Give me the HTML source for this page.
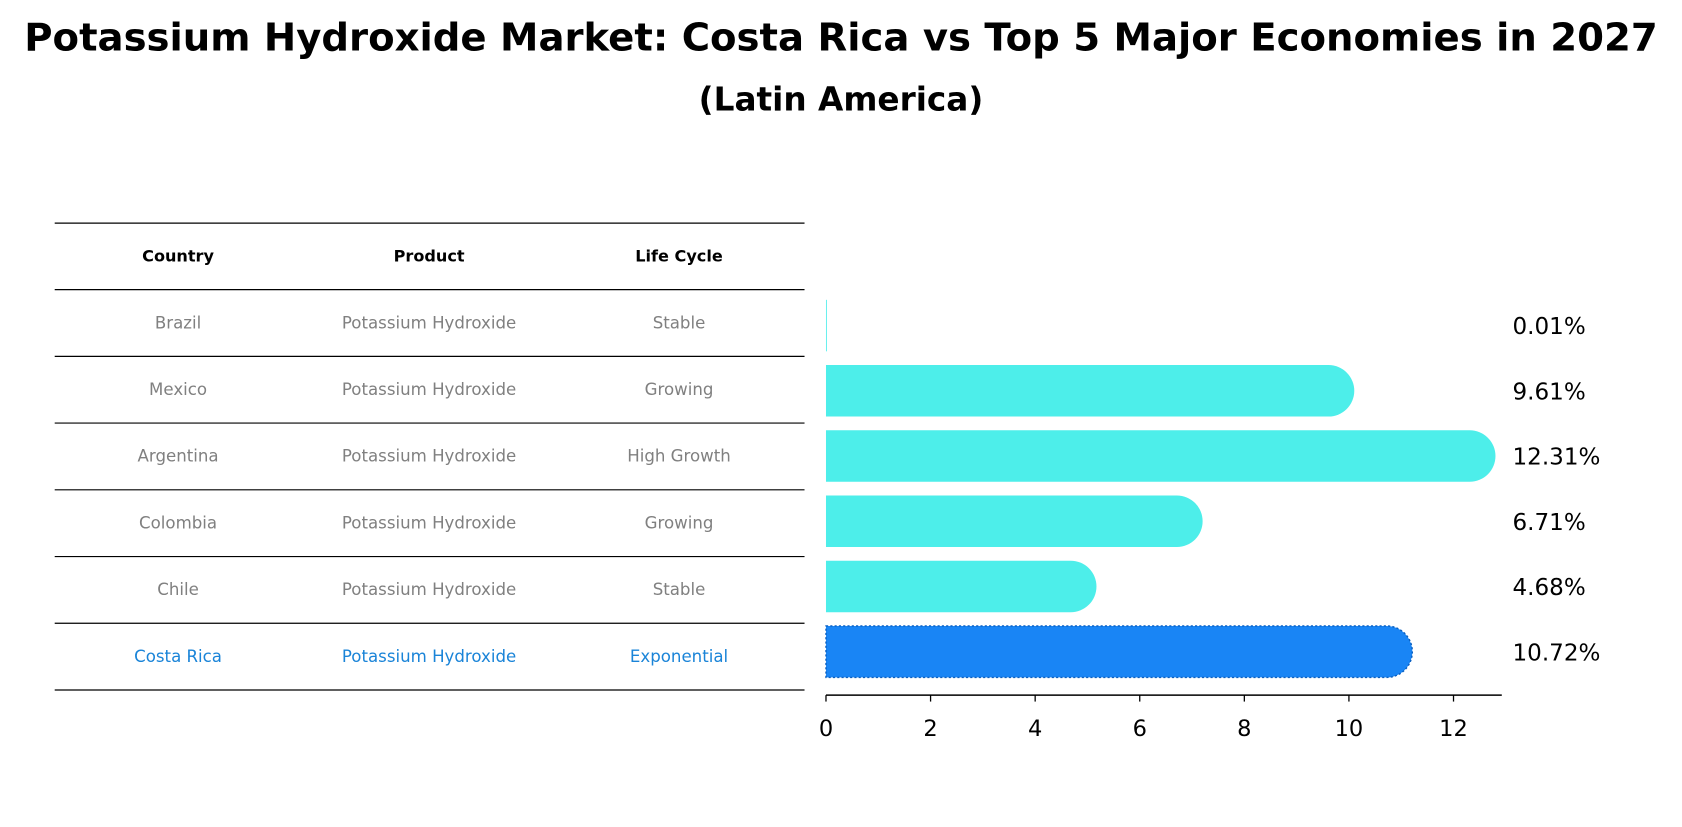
<!DOCTYPE html>
<html><head><meta charset="utf-8"><style>
body{margin:0;background:#fff;font-family:"DejaVu Sans","Liberation Sans",sans-serif}
svg text{font-family:"DejaVu Sans","Liberation Sans",sans-serif}
</style></head><body>
<svg id="chart" width="1682" height="823" viewBox="0 0 1568 767.2" preserveAspectRatio="none" xmlns="http://www.w3.org/2000/svg">
<text x="784" y="47" text-anchor="middle" font-size="36" font-weight="bold">Potassium Hydroxide Market: Costa Rica vs Top 5 Major Economies in 2027</text>
<text x="784" y="103" text-anchor="middle" font-size="30.5" font-weight="bold">(Latin America)</text>
<g id="table"></g>
<g id="bars"></g>
<g id="axis"></g>
</svg>
<script>
const countries=["Brazil","Mexico","Argentina","Colombia","Chile","Costa Rica"];
const products=["Potassium Hydroxide","Potassium Hydroxide","Potassium Hydroxide","Potassium Hydroxide","Potassium Hydroxide","Potassium Hydroxide"];
const lifeCycles=["Stable","Growing","High Growth","Growing","Stable","Exponential"];
const values=[0.01,9.61,12.31,6.71,4.68,10.72];
const ticks=[0,2,4,6,8,10,12];
const NS="http://www.w3.org/2000/svg";
function mk(tag,attrs,parent,txt){const e=document.createElementNS(NS,tag);for(const k in attrs)e.setAttribute(k,attrs[k]);if(txt!==undefined)e.textContent=txt;parent.appendChild(e);return e;}
const x0=770,unit=48.75;
const xs=v=>x0+v*unit;
const rowY=i=>303.5+i*60.8;
const barH=48;
const table=document.getElementById('table'),bars=document.getElementById('bars'),axis=document.getElementById('axis');
const lineYs=[208,270];
for(let i=0;i<countries.length;i++)lineYs.push(270+(i+1)*62.2);
lineYs.forEach(y=>{const l=mk('line',{x1:51,x2:750,y1:y,y2:y,stroke:'#000','stroke-width':1.1},table);

});
const colX=[166,400,633];
["Country","Product","Life Cycle"].forEach((h,j)=>{const t=mk('text',{x:colX[j],y:244,'text-anchor':'middle','font-size':15,'font-weight':'bold'},table,h);

});
countries.forEach((c,i)=>{
 const y=300.5+i*62.2+5.5;const hi=i===countries.length-1;const col=hi?'#1a84d8':'#808080';
 [c,products[i],lifeCycles[i]].forEach((v,j)=>{const t=mk('text',{x:colX[j],y:y,'text-anchor':'middle','font-size':15.5,fill:col},table,v);
 
 });
 const v=values[i];const cy=rowY(i);const xe=xs(v);const top=cy-barH/2;
 const fill=hi?'#1985f5':'#4deeea';
 const w=Math.max(xe-x0,0.8);
 let d;
 if(v<0.1){d=`M${x0},${top}h${w}v${barH}h${-w}z`;}
 else d=`M${x0},${top}H${xe}A${barH/2},${barH/2} 0 0 1 ${xe},${top+barH}H${x0}Z`;
 const p=mk('path',{d:d,fill:fill,stroke:hi?'#0a5fc0':'none','stroke-width':hi?1.3:0,'stroke-dasharray':hi?'2,2':'none'},bars);
 
 
 const t=mk('text',{x:1410,y:cy+8,'font-size':21.5},bars,v.toFixed(2)+'%');
 
 
});
const al=mk('line',{x1:x0,x2:1400,y1:648,y2:648,stroke:'#000','stroke-width':1.3},axis);


ticks.forEach(tv=>{const x=xs(tv);const l=mk('line',{x1:x,x2:x,y1:648,y2:654,stroke:'#000','stroke-width':1.2},axis);


const t=mk('text',{x:x,y:686,'text-anchor':'middle','font-size':21},axis,String(tv));

});
</script>
</body></html>
